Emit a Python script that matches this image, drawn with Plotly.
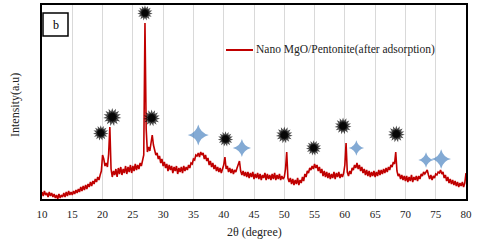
import numpy as np
import plotly.graph_objects as go

# 2-theta grid (0.2 degree steps) and intensities
two_theta = np.round(np.arange(10.0, 80.0001, 0.2), 1)
intensity = [
    7, 3, 8, 4, 6, 2, 7, 3, 6, 2,
    5, 1, 4, 0, 5, 1, 4, 2, 6, 2,
    7, 3, 8, 4, 7, 4, 8, 5, 9, 6,
    10, 7, 12, 8, 13, 9, 14, 10, 15, 12,
    17, 13, 18, 15, 20, 17, 22, 19, 24, 28,
    44, 40, 33, 36, 32, 45, 72, 30, 22, 28,
    24, 30, 22, 31, 25, 32, 24, 30, 26, 33,
    25, 32, 27, 34, 26, 33, 28, 35, 29, 34,
    30, 36, 33, 38, 44, 176, 70, 47, 52, 48,
    58, 64, 54, 50, 44, 46, 40, 43, 36, 40,
    33, 37, 31, 35, 28, 34, 29, 33, 26, 32,
    28, 33, 25, 31, 27, 32, 26, 33, 28, 32,
    29, 34, 31, 36, 35, 40, 39, 44, 43, 46,
    42, 47, 44, 46, 40, 44, 38, 41, 34, 38,
    32, 36, 30, 34, 28, 32, 27, 31, 26, 30,
    34, 42, 30, 33, 27, 31, 26, 30, 25, 29,
    27, 31, 36, 38, 28, 24, 28, 23, 27, 22,
    27, 21, 26, 22, 27, 20, 25, 21, 26, 20,
    25, 19, 24, 21, 26, 19, 25, 20, 24, 19,
    25, 20, 26, 19, 24, 20, 25, 19, 23, 20,
    22, 30, 47, 21, 17, 21, 15, 20, 14, 19,
    15, 21, 14, 19, 16, 22, 18, 25, 22, 28,
    26, 31, 29, 33, 30, 35, 31, 34, 28, 32,
    26, 30, 23, 28, 22, 27, 21, 26, 20, 25,
    21, 27, 20, 26, 22, 27, 21, 25, 22, 26,
    34, 56, 27, 23, 28, 25, 31, 29, 34, 31,
    36, 30, 34, 28, 32, 26, 30, 24, 29, 23,
    28, 22, 27, 23, 28, 22, 27, 23, 29, 24,
    29, 25, 30, 26, 31, 27, 32, 29, 34, 32,
    37, 35, 47, 28, 23, 25, 20, 24, 19, 23,
    18, 23, 17, 22, 18, 24, 17, 22, 19, 23,
    18, 23, 20, 25, 23, 27, 25, 28, 29, 24,
    20, 24, 19, 23, 21, 25, 24, 27, 26, 29,
    25, 27, 21, 24, 18, 22, 16, 20, 15, 19,
    14, 18, 13, 17, 12, 16, 13, 17, 12, 16,
    26,
]

# peak markers
black_x = [19.7, 21.6, 27.0, 28.1, 40.3, 50.0, 54.85, 59.7, 68.5]
black_y = [66, 82, 186, 81, 60, 64, 51, 73, 65]
black_size = [11, 13, 11, 12, 11, 12, 11, 12, 12]

blue_x = [35.8, 43.0, 61.9, 73.4, 75.9]
blue_y = [64, 51, 51, 39, 40]
blue_size = [15, 13, 11, 11, 14]

x_ticks = list(range(10, 81, 5))
series_name = "Nano MgO/Pentonite(after adsorption)"

W, H = 480, 245
L, R, T, B = 42, 14, 5, 46
PW, PH = W - L - R, H - T - B


def px(x):
    return (x - L) / PW


def py(y):
    return (H - B - y) / PH


RED = "#C00000"
FONT = "Liberation Serif"

fig = go.Figure()
fig.add_trace(go.Scatter(x=two_theta, y=intensity, mode="lines",
                         line=dict(color=RED, width=1.6), name=series_name,
                         showlegend=False))
for ang in (0, 24, 48):
    fig.add_trace(go.Scatter(x=black_x, y=black_y, mode="markers", showlegend=False,
                             marker=dict(symbol="star", size=black_size, color="black",
                                         angle=ang, line=dict(width=0))))
fig.add_trace(go.Scatter(x=blue_x, y=blue_y, mode="markers", showlegend=False,
                         marker=dict(symbol="star-diamond", size=blue_size, color="#4F86C2",
                                     line=dict(width=0))))

shapes = [
    dict(type="rect", xref="paper", yref="paper", x0=px(43), x1=px(68), y0=py(36), y1=py(13),
         line=dict(color="black", width=1.5), fillcolor="white"),
    dict(type="line", xref="paper", yref="paper", x0=px(226), x1=px(253), y0=py(50), y1=py(50),
         line=dict(color=RED, width=2)),
]
annotations = [
    dict(text="b", xref="paper", yref="paper", x=px(56), y=py(25), showarrow=False,
         font=dict(family=FONT, size=12, color="black"), xanchor="center", yanchor="middle"),
    dict(text=series_name, xref="paper", yref="paper", x=px(254), y=py(50), showarrow=False,
         font=dict(family=FONT, size=11.5, color="#222"), xanchor="left", yanchor="middle"),
    dict(text="Intensity(a.u)", xref="paper", yref="paper", x=px(15), y=py(105), showarrow=False,
         textangle=-90, font=dict(family=FONT, size=12, color="#222"),
         xanchor="center", yanchor="middle"),
    dict(text="2θ (degree)", xref="paper", yref="paper", x=px(254), y=py(232), showarrow=False,
         font=dict(family=FONT, size=12, color="#222"), xanchor="center", yanchor="middle"),
]

fig.update_layout(
    width=W, height=H, margin=dict(l=L, r=R, t=T, b=B, autoexpand=False),
    paper_bgcolor="white", plot_bgcolor="white",
    shapes=shapes, annotations=annotations, showlegend=False,
    xaxis=dict(range=[10, 80], tickvals=x_ticks, ticktext=[str(v) for v in x_ticks],
               showgrid=True, gridcolor="#D9D9D9", gridwidth=1, zeroline=False,
               showline=True, linecolor="black", linewidth=1.5, mirror=True,
               ticks="outside", ticklen=4, tickcolor="white",
               tickfont=dict(family=FONT, size=11, color="#222")),
    yaxis=dict(range=[0, PH], showgrid=False, zeroline=False, showticklabels=False,
               showline=True, linecolor="black", linewidth=1.5, mirror=True, ticks=""),
)

fig.write_html("out.html", config={"displayModeBar": False},
               post_script="document.body.style.margin='0';")
